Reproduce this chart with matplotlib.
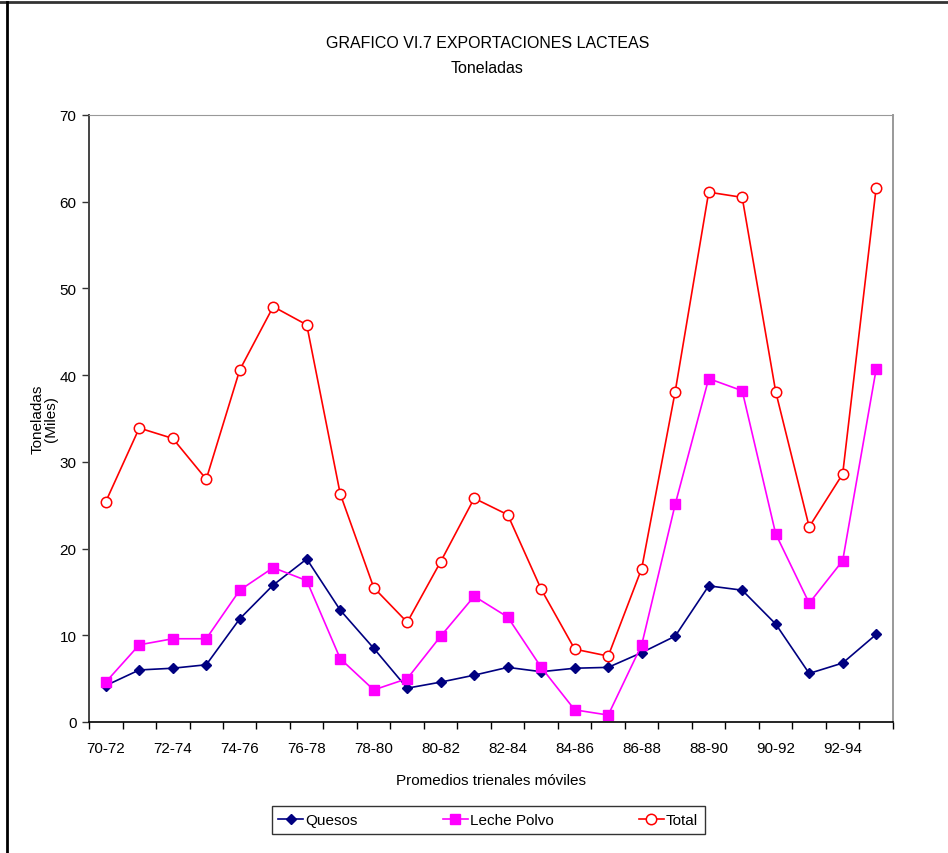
import matplotlib as mpl
import matplotlib.pyplot as plt
from matplotlib.lines import Line2D
import numpy as np

mpl.rcParams.update(
    {
        "font.family": ["Liberation Sans", "DejaVu Sans"],
        "font.size": 11,
    }
)

periods = [f"{y}-{y + 2}" for y in range(70, 94)]
tick_labels = periods[::2]

quesos = [4.2, 6.0, 6.2, 6.6, 11.9, 15.8, 18.8, 12.9, 8.5, 3.9, 4.6, 5.4,
          6.3, 5.8, 6.2, 6.3, 8.0, 9.9, 15.7, 15.2, 11.3, 5.6, 6.8, 10.1]
leche_polvo = [4.6, 8.9, 9.6, 9.6, 15.2, 17.8, 16.3, 7.3, 3.7, 5.0, 9.9, 14.5,
               12.1, 6.3, 1.4, 0.8, 8.9, 25.1, 39.6, 38.2, 21.7, 13.7, 18.6, 40.7]
total = [25.4, 33.9, 32.7, 28.0, 40.6, 47.9, 45.8, 26.3, 15.5, 11.5, 18.5, 25.8,
         23.9, 15.3, 8.4, 7.6, 17.7, 38.1, 61.1, 60.5, 38.1, 22.5, 28.6, 61.6]

x = np.arange(len(periods))

fig = plt.figure(figsize=(9.48, 8.54), dpi=100)
ax = fig.add_axes([0.0939, 0.1534, 0.848, 0.7108])

ax.plot(x, quesos, color="#000080", marker="D", markersize=5.5, lw=1.2,
        markerfacecolor="#000080", label="Quesos")
ax.plot(x, leche_polvo, color="#FF00FF", marker="s", markersize=6.5, lw=1.2,
        markerfacecolor="#FF00FF", label="Leche Polvo")
ax.plot(x, total, color="#FF0000", marker="o", markersize=7.5, lw=1.2,
        markerfacecolor="white", markeredgewidth=1.1, label="Total")

ax.set_xlim(-0.5, len(periods) - 0.5)
ax.set_ylim(0, 70)
ax.set_yticks(np.arange(0, 71, 10))

ax.set_xticks(np.arange(-0.5, len(periods), 1.0))
ax.set_xticklabels([])
ax.set_xticks(x[::2], minor=True)
ax.set_xticklabels(tick_labels, minor=True)
ax.tick_params(axis="x", which="major", direction="out", length=5, width=1, color="black")
ax.tick_params(axis="x", which="minor", length=0, pad=14)
ax.tick_params(axis="y", direction="out", length=5, width=1, color="#333333", pad=4)

ax.spines["left"].set_color("#444444")
ax.spines["left"].set_linewidth(1.4)
ax.spines["bottom"].set_color("black")
ax.spines["bottom"].set_linewidth(1.2)
ax.spines["top"].set_color("#999999")
ax.spines["right"].set_color("#999999")
ax.spines["right"].set_linewidth(1.4)

ax.set_xlabel("Promedios trienales móviles", labelpad=13)
ax.set_ylabel("Toneladas\n(Miles)", labelpad=1, linespacing=1.0)

fig.text(0.514, 0.949, "GRAFICO VI.7 EXPORTACIONES LACTEAS", ha="center", va="center", fontsize=11.5)
fig.text(0.514, 0.920, "Toneladas", ha="center", va="center", fontsize=11.5)

leg = fig.legend(loc="center", bbox_to_anchor=(0.515, 0.0385), ncol=3,
                 frameon=True, fancybox=False, columnspacing=5.6,
                 handlelength=1.6, handletextpad=0.15, borderpad=0.45,
                 borderaxespad=0, handleheight=0.7)
leg.get_frame().set_edgecolor("black")
leg.get_frame().set_linewidth(1.0)

fig.add_artist(Line2D([0, 1], [0.9965, 0.9965], transform=fig.transFigure, color="#333333", lw=2))
fig.add_artist(Line2D([0.0075, 0.0075], [0, 0.9965], transform=fig.transFigure, color="black", lw=2))

fig.savefig("out.png", dpi=100)
